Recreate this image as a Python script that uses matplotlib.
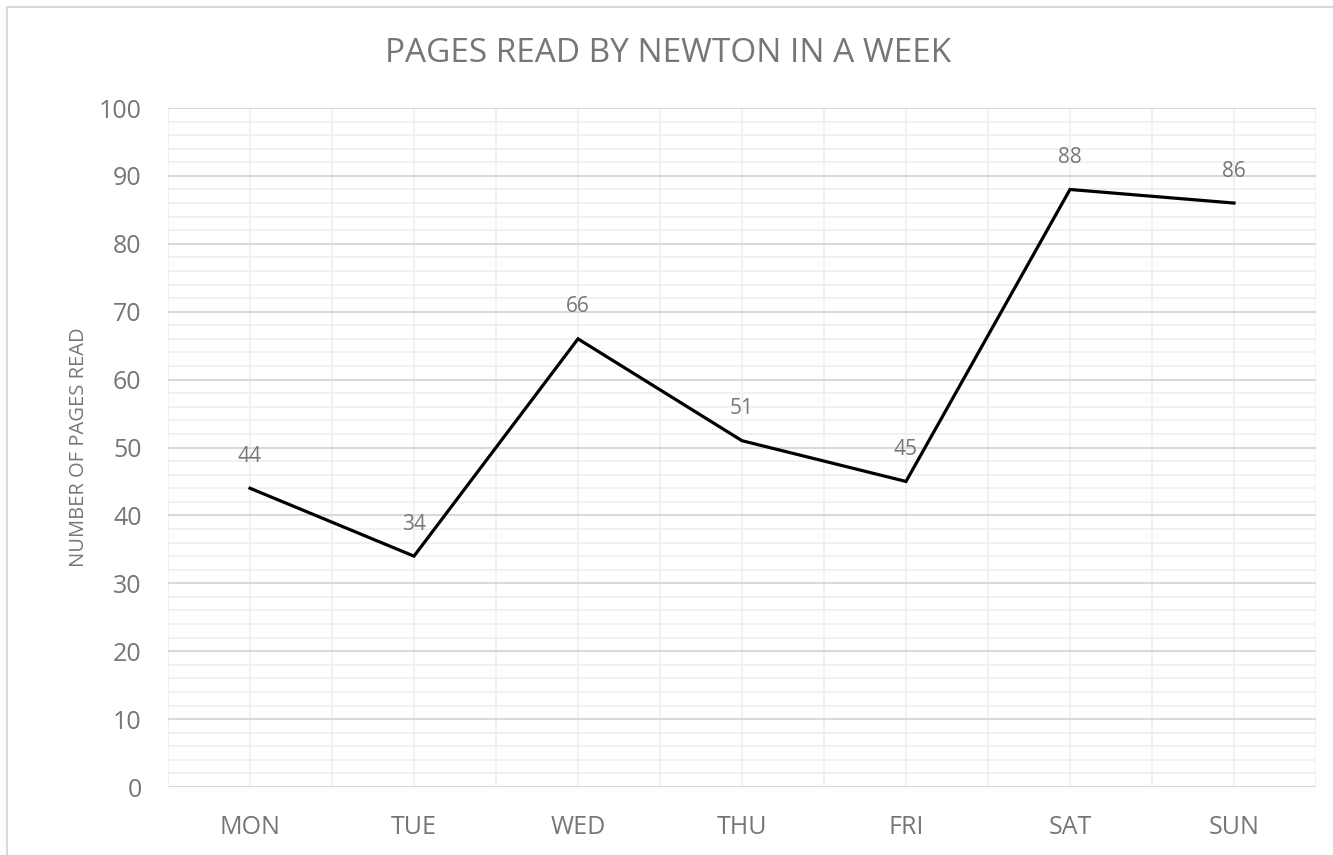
import matplotlib
matplotlib.use('Agg')
import matplotlib.pyplot as plt
from matplotlib.patches import Rectangle

days = ['MON', 'TUE', 'WED', 'THU', 'FRI', 'SAT', 'SUN']
pages = [44, 34, 66, 51, 45, 88, 86]
title = 'PAGES READ BY NEWTON IN A WEEK'
ylabel = 'NUMBER OF PAGES READ'

plt.rcParams['font.family'] = ['Open Sans', 'DejaVu Sans']
grey = '#767676'

fig = plt.figure(figsize=(13.33, 8.55), dpi=100)
# outer chart border
fig.patches.append(Rectangle((7 / 1333, -0.1), 1.2, 1 - 7 / 855 + 0.1, transform=fig.transFigure,
                             fill=False, edgecolor='#d9d9d9', linewidth=1.5))

ax = fig.add_axes([168 / 1333, 1 - 787 / 855, (1316 - 168) / 1333, (787 - 108) / 855])
x = list(range(len(days)))

# grid: minor every 2, major every 10, vertical at centers and boundaries
for v in range(0, 101, 2):
    major = v % 10 == 0
    ax.axhline(v, color='#d9d9d9' if major else '#f0f0f0', linewidth=1.5 if major else 1.3, zorder=1 if major else 0)
for i in range(len(days) + 1):
    ax.axvline(i - 0.5, color='#f0f0f0', linewidth=1.3, zorder=0)
    if i < len(days):
        ax.axvline(i, color='#f0f0f0', linewidth=1.3, zorder=0)

ax.plot(x, pages, color='black', linewidth=2.3, zorder=3, solid_joinstyle='miter')
for xi, p in zip(x, pages):
    ax.annotate(str(p), (xi, p), xytext=(0, 23), textcoords='offset points', ha='center', va='center',
                fontsize=15, color=grey, zorder=4)

ax.set_xlim(-0.5, len(days) - 0.5)
ax.set_ylim(0, 100)
ax.set_yticks(range(0, 101, 10))
ax.set_xticks(x)
ax.set_xticklabels(days)
for s in ax.spines.values():
    s.set_visible(False)
ax.tick_params(length=0, labelsize=18, colors=grey)
ax.tick_params(axis='y', pad=19)
ax.tick_params(axis='x', pad=20)
ax.set_ylabel(ylabel, fontsize=14.5, color=grey, labelpad=7)
fig.text(668 / 1333, 1 - 54 / 855, title, ha='center', va='center', fontsize=24, color=grey)

plt.savefig('out.png', dpi=100)
